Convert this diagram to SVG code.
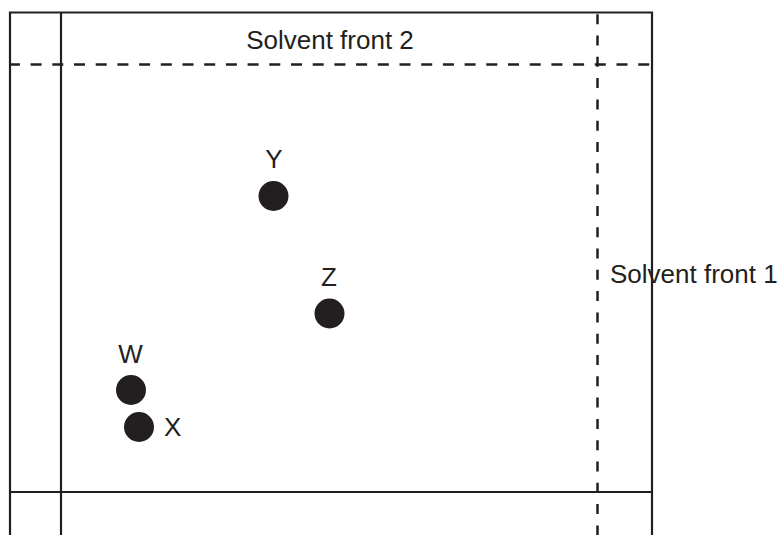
<svg xmlns="http://www.w3.org/2000/svg" width="782" height="535" viewBox="0 0 782 535">
<style>
.solid{stroke:#231f20;stroke-width:2.2;fill:none}
.dash{stroke:#231f20;stroke-width:2.5;fill:none}
.spot{fill:#231f20}
text{font-family:"Liberation Sans",Arial,sans-serif;font-size:26px;fill:#231f20}
.lbl{text-anchor:middle}
</style>
<rect width="782" height="535" fill="#fff"/>
<g id="plate">
<path class="solid" d="M10 535V12.5H652V535"/>
<path class="solid" d="M61 12.5V535"/>
<path class="solid" d="M10 492H652"/>
<path class="dash" d="M11 64.5H652" stroke-dasharray="11 10.7" stroke-dashoffset="2.1"/>
<path class="dash" d="M597.5 12.5V535" stroke-dasharray="10 11.3" stroke-dashoffset="19.6"/>
<text x="330" y="49" class="lbl" font-size="26.8">Solvent front 2</text>
<text x="610" y="283" font-size="26.3">Solvent front 1</text>
</g>
<g id="spotY"><circle class="spot" cx="273.5" cy="196" r="15"/><text class="lbl" x="274" y="168">Y</text></g>
<g id="spotZ"><circle class="spot" cx="329.5" cy="313.5" r="15"/><text class="lbl" x="329" y="286">Z</text></g>
<g id="spotW"><circle class="spot" cx="131" cy="390" r="15"/><text class="lbl" x="130.5" y="363">W</text></g>
<g id="spotX"><circle class="spot" cx="139" cy="427" r="15"/><text x="164" y="436">X</text></g>
</svg>
